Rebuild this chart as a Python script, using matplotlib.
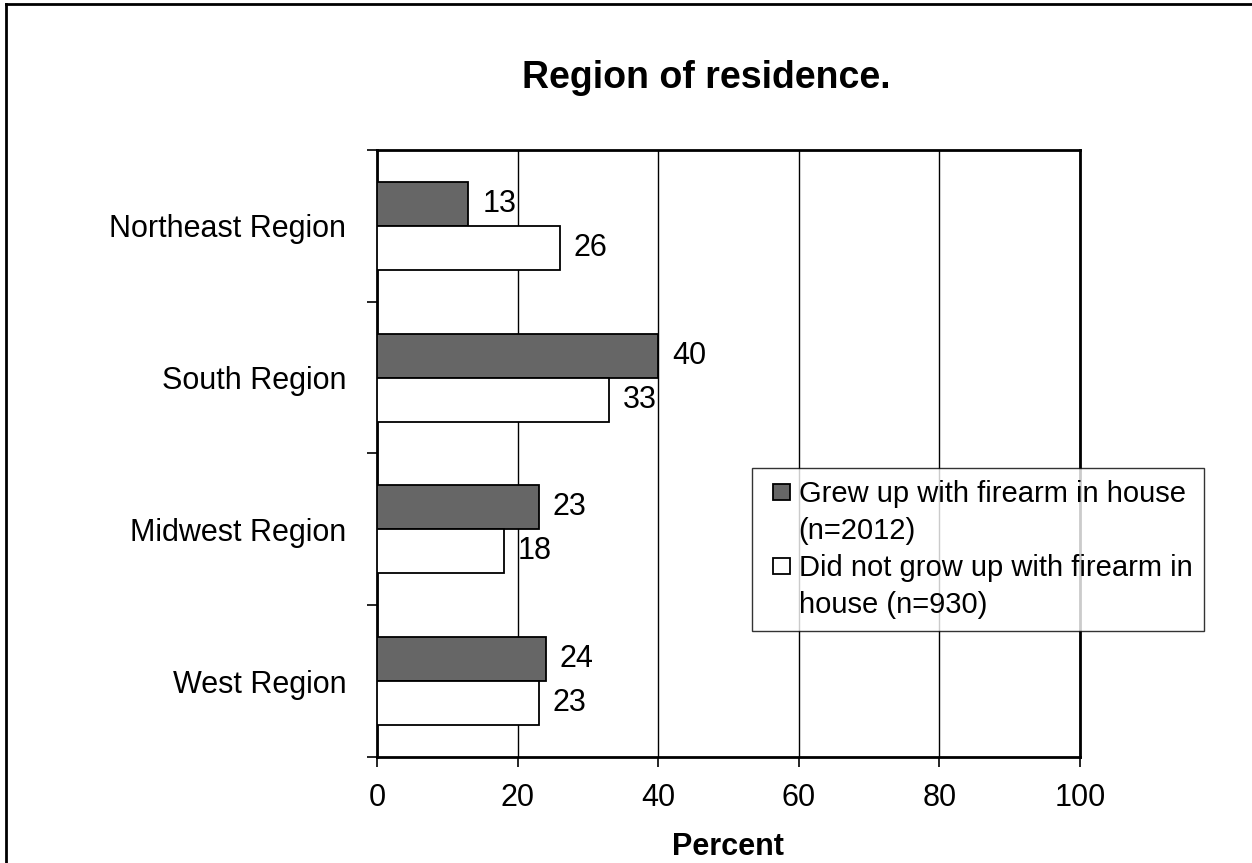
import numpy as np
import matplotlib.pyplot as plt
from matplotlib.lines import Line2D
from matplotlib.patches import Rectangle
from matplotlib.legend_handler import HandlerPatch

plt.rcParams['font.family'] = ['Liberation Sans', 'DejaVu Sans']

# data
regions = ["Northeast Region", "South Region", "Midwest Region", "West Region"]
grew_up = [13, 40, 23, 24]
not_grew_up = [26, 33, 18, 23]
lab_grew = "Grew up with firearm in house\n(n=2012)"
lab_not = "Did not grow up with firearm in\nhouse (n=930)"
x_ticks = [0, 20, 40, 60, 80, 100]


def square_first_line(legend, orig_handle, xdescent, ydescent, width, height, fontsize):
    # small square, right aligned in the handle box, level with the first text line
    return Rectangle((-xdescent + width - height, -ydescent + 0.72 * fontsize),
                     height, height)


fig = plt.figure(figsize=(12.52, 8.63), dpi=100)
ax = fig.add_axes([377 / 1252, 1 - 757 / 863, 703 / 1252, 607 / 863])

y = np.arange(len(regions))
h = 0.29
b1 = ax.barh(y - h / 2, grew_up, height=h, color="#666666",
             edgecolor="black", linewidth=1.3, zorder=3)
b2 = ax.barh(y + h / 2, not_grew_up, height=h, color="white",
             edgecolor="black", linewidth=1.3, zorder=3)
ax.bar_label(b1, padding=10, fontsize=22, zorder=4)
ax.bar_label(b2, padding=10, fontsize=22, zorder=4)

ax.set_xlim(0, 100)
ax.set_ylim(len(regions) - 0.5, -0.5)
ax.set_xticks(x_ticks)
ax.set_yticks(y)
ax.set_yticklabels(regions)
ax.set_yticks(np.arange(-0.5, len(regions), 1.0), minor=True)
ax.tick_params(axis="y", which="major", length=0, pad=22, labelsize=22)
ax.tick_params(axis="y", which="minor", length=7, width=1.2, direction="out")
ax.tick_params(axis="x", length=7, width=1.2, direction="out", pad=12, labelsize=22)
ax.xaxis.grid(True, color="black", linewidth=1.0, zorder=0)
ax.set_axisbelow(True)
for s in ax.spines.values():
    s.set_linewidth(2.0)

leg = ax.legend([b1.patches[0], b2.patches[0]], [lab_grew, lab_not],
                handler_map={Rectangle: HandlerPatch(patch_func=square_first_line)},
                loc="upper left",
                bbox_to_anchor=(752 / 1252, 1 - 468 / 863),
                bbox_transform=fig.transFigure, fontsize=21,
                frameon=True, fancybox=False, borderpad=0.4,
                handlelength=0.9, handleheight=0.5, handletextpad=0.3,
                labelspacing=0.3, borderaxespad=0)
leg.get_frame().set_edgecolor("black")
leg.get_frame().set_linewidth(1.0)
for t in leg.get_texts():
    t.set_linespacing(1.42)

fig.text(706 / 1252, 1 - 88 / 863, "Region of residence.", fontsize=27,
         fontweight="bold", ha="center", va="baseline")
fig.text(728 / 1252, 1 - 847 / 863, "Percent", fontsize=22, fontweight="bold",
         ha="center", va="center")

# outer frame (left and top edges visible)
fig.add_artist(Line2D([0.005, 0.005], [0, 0.995], transform=fig.transFigure,
                      color="black", linewidth=2))
fig.add_artist(Line2D([0.005, 1], [0.995, 0.995], transform=fig.transFigure,
                      color="black", linewidth=2))

fig.savefig("out.png", dpi=100)
